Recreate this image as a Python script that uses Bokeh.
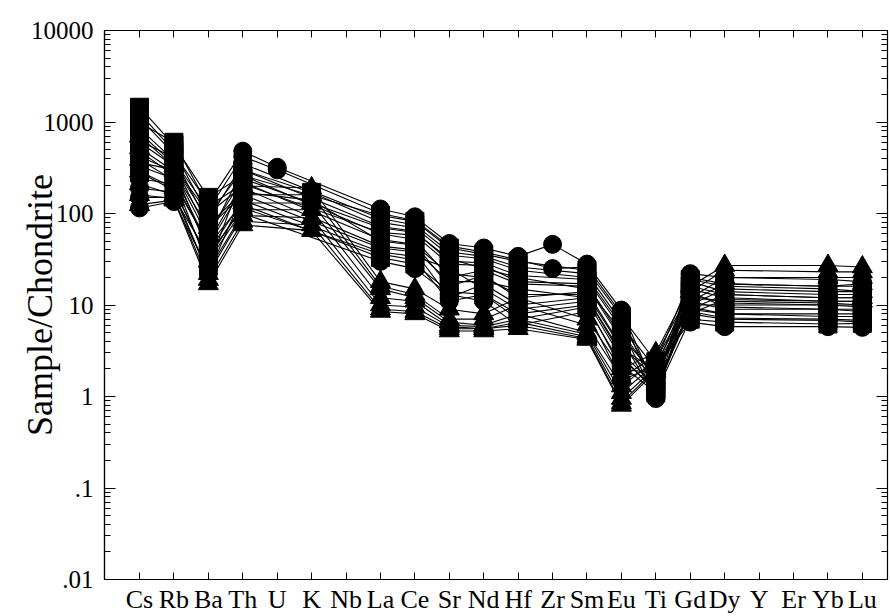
from bokeh.plotting import figure
from bokeh.models import Range1d, LinearAxis, LogAxis, FixedTicker, CustomJSTickFormatter
from bokeh.embed import file_html
from bokeh.resources import INLINE

# ---------------- data ----------------
ELEMENTS = ["Cs", "Rb", "Ba", "Th", "U", "K", "Nb", "La", "Ce", "Sr", "Nd",
            "Hf", "Zr", "Sm", "Eu", "Ti", "Gd", "Dy", "Y", "Er", "Yb", "Lu"]
Y_TICKS = [0.01, 0.1, 1, 10, 100, 1000, 10000]
Y_TICK_LABELS = [".01", ".1", "1", "10", "100", "1000", "10000"]
N = None

# samples drawn with squares
s1 = [1450, 560, 150, 260, N, N, N, 95, 82, 42, 36, 30, N, 24, 7.5, 2.4, 19, 16, N, N, 15, 14]
s2 = [1250, 480, 95, 300, N, 170, N, 80, 70, 35, 32, 24, N, 20, 6.0, 2.0, 16, 13, N, N, 12, 12]
s3 = [980, 600, 120, 210, N, N, N, 62, 58, 28, 27, 18, N, 17, 4.5, 1.7, 12, 11, N, N, 10.5, 10]
s4 = [760, 350, 60, 240, N, N, N, 70, 62, 32, 25, 20, N, 15, 5.2, 1.5, 14, 9.5, N, N, 9, 9]
s5 = [620, 410, 75, 170, N, 140, N, 50, 45, 22, 20, 13, N, 13, 3.4, 1.9, 10, 10, N, N, 10, 9.5]
s6 = [480, 260, 45, 190, N, N, N, 44, 40, 18, 18, 15, N, 12, 3.0, 1.3, 9, 8, N, N, 8, 8]
s7 = [360, 300, 38, 140, N, N, N, 38, 34, 25, 15, 9, N, 11, 2.6, 1.2, 8.5, 7.2, N, N, 7, 6.8]
s8 = [280, 180, 32, 125, N, N, N, 33, 28, 14, 13, 7, N, 9.5, 2.2, 1.1, 7, 6.5, N, N, 6.2, 6.3]

# samples drawn with circles
c1 = [1100, 450, 130, 480, 320, N, N, 112, 92, 47, 42, 34, 46, 28, 8.8, 1.2, 22, 20, N, N, 19, 18]
c2 = [850, 380, 110, 420, 300, N, N, 100, 84, 44, 38, 31, 25, 26, 8.0, 1.0, 20, 17, N, N, 16, 16]
c3 = [600, 330, 85, 350, N, N, N, 88, 75, 38, 34, 26, N, 22, 6.5, 1.4, 18, 14, N, N, 13, 13]
c4 = [420, 290, 55, 300, N, N, N, 72, 64, 30, 29, 21, N, 19, 5.5, 0.95, 15, 12, N, N, 11, 11]
c5 = [330, 240, 26, 260, N, N, N, 60, 52, 20, 24, 17, N, 16, 4.2, 1.0, 13, 10.5, N, N, 10, 10]
c6 = [240, 210, 48, 220, N, N, N, 52, 46, 16, 21, 12, N, 14, 3.5, 1.6, 11, 9, N, N, 9, 8.5]
c7 = [190, 170, 22, 160, N, N, N, 42, 38, 12, 17, 10, N, 12, 2.8, 1.1, 9.5, 8, N, N, 7.5, 7.5]
c8 = [150, 150, 35, 115, N, N, N, 36, 31, 11, 13, 8, N, 10, 2.0, 1.8, 8, 7, N, N, 6.8, 6.5]
c9 = [115, 135, 24, 100, N, N, N, 30, 25, 13, 11, 6, N, 8.5, 1.5, 2.2, 6.5, 5.8, N, N, 5.8, 5.7]

# samples drawn with triangles
t1 = [700, 330, 100, 200, N, 190, N, 18, 15, 9, 8, 12, N, 7, 2.0, 3.0, 16, 27, N, N, 27, 26]
t2 = [520, 290, 70, 160, N, 160, N, 16, 13, 7, 7, 10, N, 6, 1.6, 2.8, 14, 24, N, N, 23, 23]
t3 = [390, 230, 45, 130, N, 130, N, 15, 12, 6.5, 6, 8, N, 5, 1.3, 2.5, 12, 20, N, N, 20, 20]
t4 = [290, 190, 30, 110, N, 110, N, 12, 11, 6, 5.8, 7, N, 4.8, 1.1, 2.3, 11, 17, N, N, 16, 17]
t5 = [210, 160, 22, 95, N, 90, N, 10, 9.5, 5.8, 5.5, 6.5, N, 4.5, 0.95, 2.1, 10, 15, N, N, 14, 14]
t6 = [160, 145, 19, 82, N, 75, N, 9, 8.5, 5.5, 5.5, 6, N, 4.3, 0.85, 2.0, 9, 13, N, N, 12, 12]
t7 = [125, 140, 17, 75, N, 65, N, 8.5, 8, 5.2, 5.2, 5.5, N, 4.2, 0.8, 1.9, 8, 11.5, N, N, 11, 11]

SQUARE_SAMPLES = [s1, s2, s3, s4, s5, s6, s7, s8]
CIRCLE_SAMPLES = [c1, c2, c3, c4, c5, c6, c7, c8, c9]
TRIANGLE_SAMPLES = [t1, t2, t3, t4, t5, t6, t7]

Y_TITLE = "Sample/Chondrite"

# ---------------- figure ----------------
SERIF = "Liberation Serif"
X_MIN, X_MAX = -1.017, 21.73

p = figure(width=890, height=616, y_axis_type="log",
           x_range=Range1d(X_MIN, X_MAX), y_range=Range1d(0.01, 10000),
           output_backend="svg", toolbar_location=None,
           min_border_left=104, min_border_right=3,
           min_border_top=30, min_border_bottom=36)
p.background_fill_color = "white"
p.border_fill_color = "white"
p.outline_line_color = "black"
p.outline_line_width = 1.2
p.xgrid.visible = False
p.ygrid.visible = False

minor = []
for t in Y_TICKS[:-1]:
    for k in range(2, 10):
        minor.append(t * k)
y_ticker = FixedTicker(ticks=Y_TICKS, minor_ticks=minor)
x_ticker = FixedTicker(ticks=list(range(len(ELEMENTS))), minor_ticks=[])

blank = CustomJSTickFormatter(code="return ''")

# left axis
ya = p.yaxis[0]
ya.ticker = y_ticker
ya.major_label_overrides = {t: lab for t, lab in zip(Y_TICKS, Y_TICK_LABELS)}
ya.major_label_text_font = SERIF
ya.major_label_text_font_size = "25px"
ya.major_label_text_color = "black"
ya.major_label_standoff = 11
ya.major_tick_in = 11
ya.major_tick_out = 0
ya.minor_tick_in = 6
ya.minor_tick_out = 0
ya.axis_line_color = "black"
ya.major_tick_line_color = "black"
ya.minor_tick_line_color = "black"
ya.axis_line_width = 1.2
ya.axis_label = Y_TITLE
ya.axis_label_text_font = SERIF
ya.axis_label_text_font_size = "36px"
ya.axis_label_text_font_style = "normal"
ya.axis_label_text_color = "black"
ya.axis_label_standoff = -32

# bottom axis
xa = p.xaxis[0]
xa.ticker = x_ticker
xa.major_label_overrides = {i: e for i, e in enumerate(ELEMENTS)}
xa.major_label_text_font = SERIF
xa.major_label_text_font_size = "26px"
xa.major_label_text_color = "black"
xa.major_label_standoff = 5
xa.major_tick_in = 7
xa.major_tick_out = 0
xa.minor_tick_in = 0
xa.minor_tick_out = 0
xa.axis_line_color = "black"
xa.axis_line_width = 1.2

# right axis (ticks only)
ra = LogAxis(ticker=y_ticker, formatter=blank)
ra.major_tick_in = 11
ra.major_tick_out = 0
ra.minor_tick_in = 6
ra.minor_tick_out = 0
ra.major_label_standoff = 0
ra.axis_line_color = "black"
p.add_layout(ra, "right")

# top axis (ticks only)
ta = LinearAxis(ticker=x_ticker, formatter=blank)
ta.major_tick_in = 7
ta.major_tick_out = 0
ta.minor_tick_in = 0
ta.minor_tick_out = 0
ta.major_label_standoff = 0
ta.axis_line_color = "black"
p.add_layout(ta, "above")


def present(sample):
    xs = [i for i, v in enumerate(sample) if v is not None]
    ys = [v for v in sample if v is not None]
    return xs, ys


groups = [(SQUARE_SAMPLES, "square", 18),
          (CIRCLE_SAMPLES, "circle", 18),
          (TRIANGLE_SAMPLES, "triangle", 20)]

for samples, _, _ in groups:
    for s in samples:
        xs, ys = present(s)
        p.line(xs, ys, line_color="black", line_width=1.1)

for samples, marker, size in groups:
    for s in samples:
        xs, ys = present(s)
        p.scatter(xs, ys, marker=marker, size=size,
                  fill_color="black", line_color="black")

open("out.html", "w").write(file_html(p, INLINE))
